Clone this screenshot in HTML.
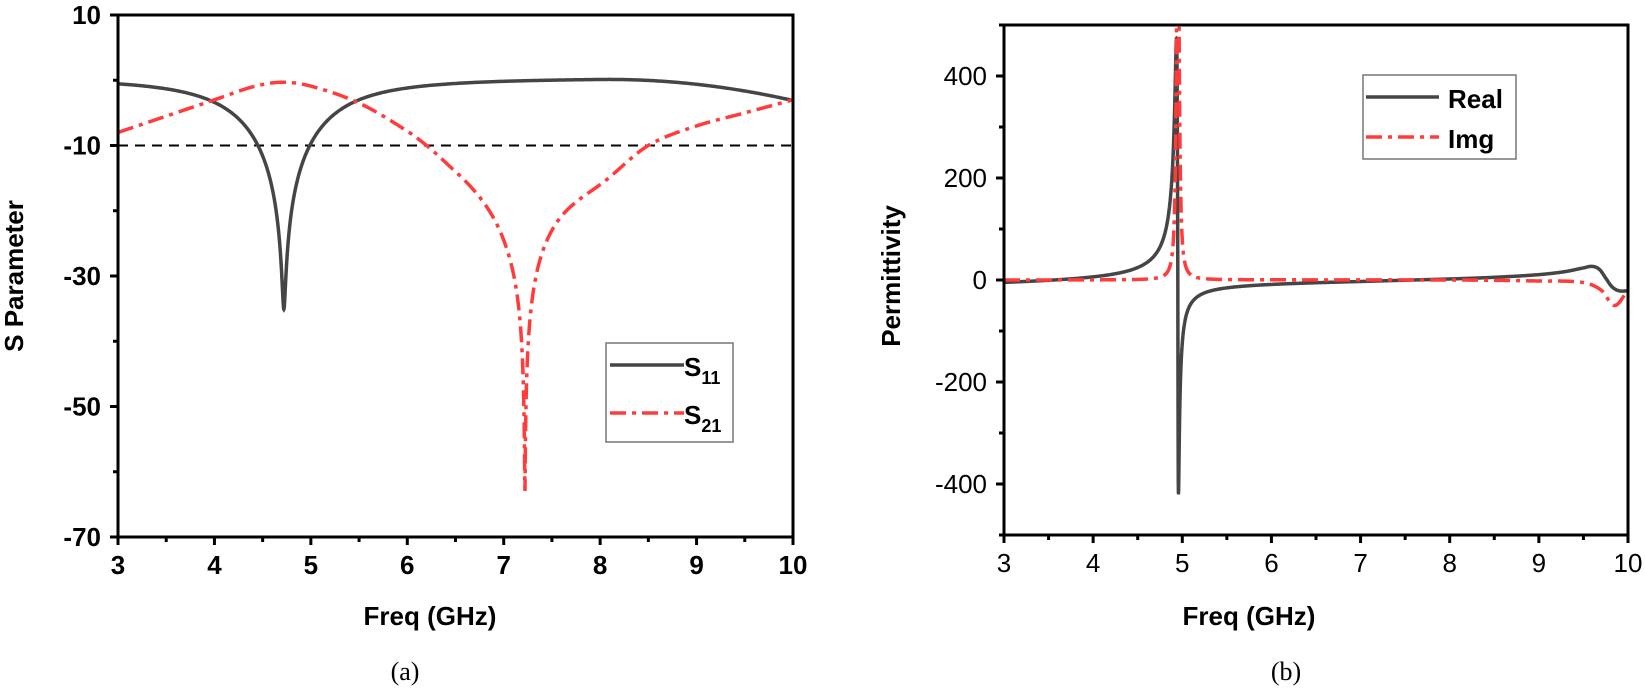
<!DOCTYPE html>
<html><head><meta charset="utf-8"><style>
html,body{margin:0;padding:0;background:#fff;}
svg{display:block;font-family:"Liberation Sans",Arial,sans-serif;}
</style></head><body>
<svg id="s" width="1645" height="694" viewBox="0 0 1645 694" xmlns="http://www.w3.org/2000/svg">
<defs>
<clipPath id="cl"><rect x="118" y="15" width="675" height="522"/></clipPath>
<clipPath id="cr"><rect x="1004" y="25" width="624" height="510"/></clipPath>
</defs>
<g id="g"></g>
</svg>
<script>
const NS="http://www.w3.org/2000/svg";const G=document.getElementById('g');
function el(t,a,txt){const e=document.createElementNS(NS,t);for(const k in a)e.setAttribute(k,a[k]);if(txt!==undefined)e.textContent=txt;G.appendChild(e);return e;}
function cr(pts,x){
 for(let i=0;i<pts.length-1;i++){if(x<=pts[i+1][0]){const p0=pts[Math.max(0,i-1)],p1=pts[i],p2=pts[i+1],p3=pts[Math.min(pts.length-1,i+2)];
 const t=(x-p1[0])/(p2[0]-p1[0]);const m1=(p2[1]-p0[1])/(p2[0]-p0[0])*(p2[0]-p1[0]);const m2=(p3[1]-p1[1])/(p3[0]-p1[0])*(p2[0]-p1[0]);
 const t2=t*t,t3=t2*t;return (2*t3-3*t2+1)*p1[1]+(t3-2*t2+t)*m1+(-2*t3+3*t2)*p2[1]+(t3-t2)*m2;}}return pts[pts.length-1][1];}
const L={x0:118,x1:793,y0:15,y1:537};
const lx=f=>L.x0+(f-3)*(L.x1-L.x0)/7, ly=v=>L.y0+(10-v)*(L.y1-L.y0)/80;
function s11(f){const d=f-4.72,g=0.85,a=Math.pow(10,-3.55);let v=10*Math.log10(a+(1-a)*d*d/(d*d+g*g))+0.4;if(f>8)v-=3.4*Math.pow((f-8)/2,2);return v;}
const Dd=f=>{const d=f-7.22,g=0.5;return 10*Math.log10(2.5e-5+d*d/(d*d+g*g));};
const tgt=[[3,-8],[3.5,-5.5],[4,-3],[4.4,-1],[4.7,-0.3],[5,-0.9],[5.5,-3.5],[6,-7.8],[6.2,-10],[6.5,-14],[7,-24.5],[7.22,-63],[7.5,-23],[8,-16],[8.5,-10],[9,-7],[9.5,-5],[10,-3]];
const E=tgt.map(p=>[p[0],p[0]==7.22?-17:p[1]-Dd(p[0])]);
const s21=f=>cr(E,f)+Dd(f);
function densePath(fn,X,Y,segs){let d='';let first=true;for(const [a,b,n] of segs){for(let i=0;i<=n;i++){const f=a+(b-a)*i/n;d+=(first?'M':'L')+X(f).toFixed(2)+' '+Y(fn(f)).toFixed(2);first=false;}}return d;}
el('line',{x1:L.x0,x2:L.x1,y1:ly(-10),y2:ly(-10),stroke:'#000','stroke-width':2,'stroke-dasharray':'10 7'});
el('path',{d:densePath(s11,lx,ly,[[3,4.5,150],[4.5,5,400],[5,10,300]]),fill:'none',stroke:'#454545','stroke-width':3.5,'clip-path':'url(#cl)'});
el('path',{d:densePath(s21,lx,ly,[[3,7,300],[7,7.45,500],[7.45,10,300]]),fill:'none',stroke:'#ff3b3b','stroke-width':3.5,'stroke-dasharray':'16 6 4 6','clip-path':'url(#cl)'});
el('rect',{x:L.x0,y:L.y0,width:L.x1-L.x0,height:L.y1-L.y0,fill:'none',stroke:'#000','stroke-width':3});
for(let f=3;f<=10.001;f+=0.5){const maj=Math.abs(f-Math.round(f))<1e-6;el('line',{x1:lx(f),x2:lx(f),y1:L.y1,y2:L.y1+(maj?8:5),stroke:'#000','stroke-width':3});
 if(maj)el('text',{x:lx(f),y:L.y1+37,'font-size':26,'font-weight':'bold','text-anchor':'middle'},String(Math.round(f)));}
for(let v=10;v>=-70;v-=10){const maj=((10-v)/10)%2==0;el('line',{x1:L.x0-(maj?8:5),x2:L.x0,y1:ly(v),y2:ly(v),stroke:'#000','stroke-width':3});
 if(maj)el('text',{x:L.x0-17,y:ly(v)+9,'font-size':26,'font-weight':'bold','text-anchor':'end'},String(v));}
el('text',{x:430,y:625,'font-size':26,'font-weight':'bold','text-anchor':'middle'},'Freq (GHz)');
el('text',{x:0,y:0,'font-size':26,'font-weight':'bold','text-anchor':'middle',transform:'translate(23,276) rotate(-90)'},'S Parameter');
el('text',{x:405,y:680,'font-size':26,'font-family':'Liberation Serif,serif','text-anchor':'middle'},'(a)');
el('rect',{x:606,y:343,width:127,height:99,fill:'#fff',stroke:'#777','stroke-width':1.5});
el('line',{x1:610,x2:684,y1:365,y2:365,stroke:'#454545','stroke-width':3.5});
el('line',{x1:610,x2:684,y1:413,y2:413,stroke:'#ff3b3b','stroke-width':3.5,'stroke-dasharray':'16 6 4 6'});
let t=el('text',{x:684,y:376,'font-size':26,'font-weight':'bold'});t.innerHTML='S<tspan font-size="18" dy="8">11</tspan>';
t=el('text',{x:684,y:424,'font-size':26,'font-weight':'bold'});t.innerHTML='S<tspan font-size="18" dy="8">21</tspan>';
const R={x0:1004,x1:1628,y0:25,y1:535};
const rx=f=>R.x0+(f-3)*(R.x1-R.x0)/7, ry=v=>R.y0+(500-v)*(R.y1-R.y0)/1000;
const f0=4.95,K=14.4,gm=0.015,K2=6,gm2=0.0073;
const tail=[[7,0],[8,4],[8.5,7],[9,12],[9.3,18],[9.5,25],[9.6,28],[9.68,22],[9.75,5],[9.82,-12],[9.9,-20],[10,-20]];
function re(f){const x=f0-f;let v=x>=0?K*x/(x*x+gm*gm):K2*x/(x*x+gm2*gm2);let off=Math.min(0,-12+3*(f-3));if(f>7){return v+cr(tail,f);}return v+off;}
const itail=[[3,0],[8,0],[9,-2],[9.5,-5],[9.7,-20],[9.85,-50],[10,-20]];
function im(f){const x=f0-f;return K*gm/(x*x+gm*gm)+cr(itail,f);}
function clampY(fn){return f=>Math.max(-520,Math.min(520,fn(f)));}
el('path',{d:densePath(clampY(re),rx,ry,[[3,4.8,200],[4.8,5.1,1500],[5.1,10,500]]),fill:'none',stroke:'#454545','stroke-width':3.5,'clip-path':'url(#cr)'});
el('path',{d:densePath(clampY(im),rx,ry,[[3,4.8,200],[4.8,5.1,1500],[5.1,10,500]]),fill:'none',stroke:'#ff3b3b','stroke-width':3.5,'stroke-dasharray':'16 6 4 6','clip-path':'url(#cr)'});
el('rect',{x:R.x0,y:R.y0,width:R.x1-R.x0,height:R.y1-R.y0,fill:'none',stroke:'#000','stroke-width':3});
for(let f=3;f<=10.001;f+=0.5){const maj=Math.abs(f-Math.round(f))<1e-6;el('line',{x1:rx(f),x2:rx(f),y1:R.y1,y2:R.y1+(maj?8:5),stroke:'#000','stroke-width':3});
 if(maj)el('text',{x:rx(f),y:R.y1+37,'font-size':26,'text-anchor':'middle'},String(Math.round(f)));}
for(let v=500;v>=-500;v-=100){const maj=v%200==0;el('line',{x1:R.x0-(maj?8:5),x2:R.x0,y1:ry(v),y2:ry(v),stroke:'#000','stroke-width':3});
 if(maj)el('text',{x:R.x0-17,y:ry(v)+9,'font-size':26,'text-anchor':'end'},String(v));}
el('text',{x:1249,y:625,'font-size':26,'font-weight':'bold','text-anchor':'middle'},'Freq (GHz)');
el('text',{x:0,y:0,'font-size':26,'font-weight':'bold','text-anchor':'middle',transform:'translate(900,276) rotate(-90)'},'Permittivity');
el('text',{x:1286,y:680,'font-size':26,'font-family':'Liberation Serif,serif','text-anchor':'middle'},'(b)');
el('rect',{x:1363,y:75,width:153,height:84,fill:'#fff',stroke:'#777','stroke-width':1.5});
el('line',{x1:1366,x2:1439,y1:97,y2:97,stroke:'#454545','stroke-width':3.5});
el('line',{x1:1366,x2:1439,y1:137,y2:137,stroke:'#ff3b3b','stroke-width':3.5,'stroke-dasharray':'16 6 4 6'});
el('text',{x:1448,y:108,'font-size':26,'font-weight':'bold'},'Real');
el('text',{x:1448,y:148,'font-size':26,'font-weight':'bold'},'Img');
</script>
</body></html>
